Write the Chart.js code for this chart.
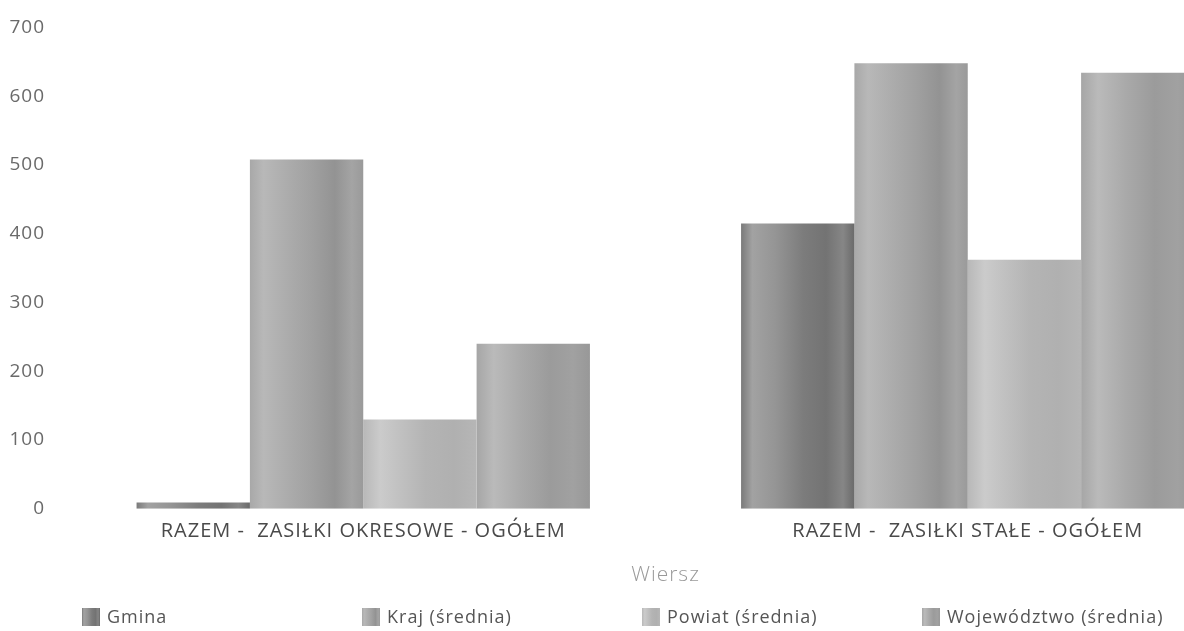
<!DOCTYPE html>
<html>
<head>
<meta charset="utf-8">
<script src="https://cdn.jsdelivr.net/npm/chart.js@4"></script>
<style>
  body { margin: 0; background: #fff; overflow: hidden; }
  #wrap { width: 1184px; height: 631px; overflow: hidden; }
</style>
</head>
<body>
<div id="wrap">
  <canvas id="chart" width="1270" height="631"></canvas>
</div>
<script>
const categories = ['RAZEM -  ZASIŁKI OKRESOWE - OGÓŁEM', 'RAZEM -  ZASIŁKI STAŁE - OGÓŁEM'];
const seriesNames = ['Gmina', 'Kraj (średnia)', 'Powiat (średnia)', 'Województwo (średnia)'];
const gmina = [9, 415];
const kraj = [508, 648];
const powiat = [130, 362];
const wojewodztwo = [240, 634];
const yTicks = [0, 100, 200, 300, 400, 500, 600, 700];

// vertical stripes of each bar, left to right
const shades = [
  [[0, '#7a7a7a'], [0.1, '#a2a2a2'], [0.3, '#959595'], [0.55, '#7c7c7c'], [0.75, '#737373'], [0.9, '#868686'], [1, '#6a6a6a']],
  [[0, '#a8a8a8'], [0.12, '#b8b8b8'], [0.35, '#ababab'], [0.55, '#a0a0a0'], [0.75, '#939393'], [0.9, '#a4a4a4'], [1, '#9a9a9a']],
  [[0, '#b8b8b8'], [0.15, '#cbcbcb'], [0.3, '#c2c2c2'], [0.55, '#b4b4b4'], [0.8, '#b0b0b0'], [1, '#b6b6b6']],
  [[0, '#a6a6a6'], [0.15, '#bababa'], [0.4, '#a9a9a9'], [0.65, '#9b9b9b'], [0.85, '#a1a1a1'], [1, '#989898']]
];

const CAT_PCT = 0.75;

function stripe(c, x, w, stops) {
  const g = c.createLinearGradient(x, 0, x + w, 0);
  stops.forEach(s => g.addColorStop(s[0], s[1]));
  return g;
}

function shade(ctx) {
  const chart = ctx.chart;
  const stops = shades[ctx.datasetIndex];
  const xs = chart.scales.x;
  if (!chart.chartArea || !xs || ctx.type !== 'data') return stops[2][1];
  const groupW = (xs.right - xs.left) / categories.length * CAT_PCT;
  const barW = groupW / seriesNames.length;
  const left = xs.getPixelForValue(ctx.dataIndex) - groupW / 2 + ctx.datasetIndex * barW;
  return stripe(chart.ctx, left, barW, stops);
}

// the source renders its text slightly spaced out
const spacing = {
  id: 'spacing',
  beforeDraw(chart) { chart.ctx.letterSpacing = '1px'; }
};

const columnLegend = {
  id: 'columnLegend',
  afterDraw(chart) {
    const c = chart.ctx;
    c.save();
    c.letterSpacing = '1px';
    c.font = '18px "Open Sans"';
    c.textBaseline = 'middle';
    chart.data.datasets.forEach((ds, i) => {
      const x = 82 + i * 280;
      const y = 617;
      c.fillStyle = stripe(c, x, 18, shades[i]);
      c.fillRect(x, y - 9, 18, 18);
      c.fillStyle = '#555';
      c.fillText(ds.label, x + 25, y + 1);
    });
    c.restore();
  }
};

const values = [gmina, kraj, powiat, wojewodztwo];

new Chart(document.getElementById('chart'), {
  type: 'bar',
  data: {
    labels: categories,
    datasets: seriesNames.map((name, i) => ({
      label: name,
      data: values[i],
      backgroundColor: shade,
      borderWidth: 0,
      categoryPercentage: CAT_PCT,
      barPercentage: 1
    }))
  },
  options: {
    responsive: false,
    animation: false,
    layout: { padding: { top: 26, bottom: 39, left: 0, right: 0 } },
    plugins: {
      legend: { display: false },
      tooltip: { enabled: false }
    },
    scales: {
      y: {
        min: 0,
        max: 700,
        afterBuildTicks: s => { s.ticks = yTicks.map(v => ({ value: v })); },
        afterFit: s => { s.width = 61; },
        grid: { display: false, drawTicks: false },
        border: { display: false },
        ticks: { padding: 16, color: '#6a6a6a', font: { family: 'Open Sans', size: 19 } }
      },
      x: {
        grid: { display: false, drawTicks: false },
        border: { display: false },
        ticks: { padding: 10, color: '#4a4a4a', maxRotation: 0, font: { family: 'Open Sans', size: 20 } },
        title: {
          display: true,
          text: 'Wiersz',
          color: '#999',
          padding: { top: 10, bottom: 4 },
          font: { family: 'Open Sans', size: 21, weight: 300 }
        }
      }
    }
  },
  plugins: [spacing, columnLegend]
});
</script>
</body>
</html>
